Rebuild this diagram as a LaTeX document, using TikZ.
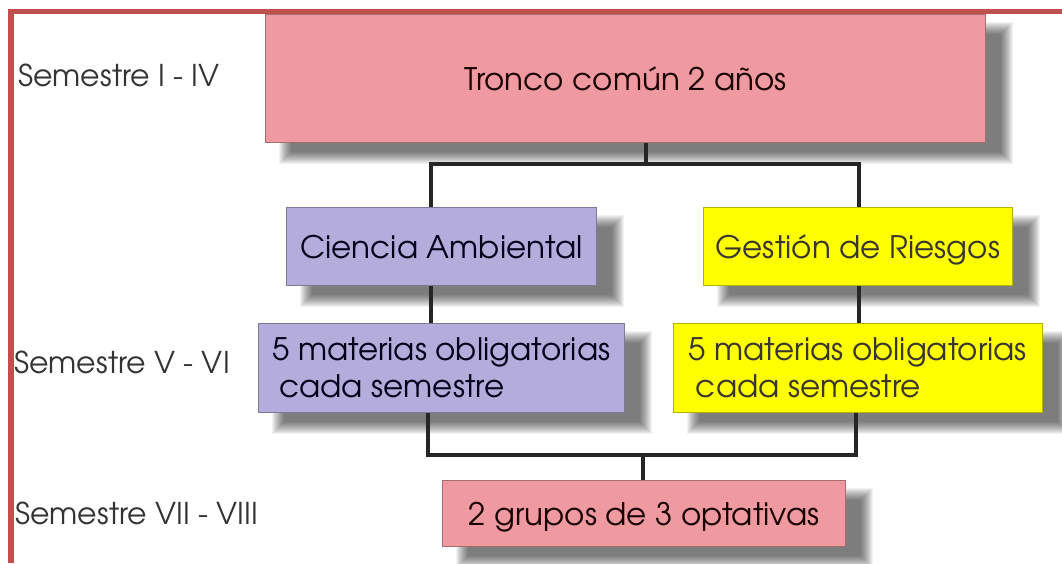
\documentclass[tikz,border=0pt]{standalone}
\usepackage{fontspec}
\setmainfont{TeX Gyre Adventor}
\usetikzlibrary{calc}
\definecolor{pinkbox}{HTML}{EE9AA0}
\definecolor{lavbox}{HTML}{B4ADDB}
\definecolor{yelbox}{HTML}{FFFF00}
\definecolor{redframe}{HTML}{C0504D}
\tikzset{
  x=1pt, y=-1pt,
  box/.style={anchor=north west, inner sep=0pt, font=\fontsize{31}{37}\selectfont},
  pinkb/.style={box, fill=pinkbox, draw=pinkbox!70!black, line width=0.8pt, text=black!90!red},
  lavb/.style={box, fill=lavbox, draw=lavbox!70!black, line width=0.8pt, text=black!90!blue},
  yelb/.style={box, fill=yelbox, draw=yelbox!70!black, line width=0.8pt, text=black!90!yellow},
  conn/.style={draw=black!85, line width=3.2pt},
  semlabel/.style={anchor=west, inner sep=0pt, text=black!80, font=\fontsize{30}{34}\selectfont},
  shadowlayer/.style={fill=black, fill opacity=0.052, draw=none},
}
% soft shadow behind a named node
\newcommand{\softshadow}[1]{%
  \foreach \r in {0,1,...,12}{%
    \fill[shadowlayer] ($(#1.north west)+(21+\r-7,15+\r-7)$) rectangle ($(#1.south east)+(21-\r+7,15-\r+7)$);
  }%
}
\begin{document}
\begin{tikzpicture}
\useasboundingbox (0,0) rectangle (1062,563);
\fill[white] (0,0) rectangle (1062,563);
% red frame
\draw[redframe, line width=5.5pt] (11,563) -- (11,11.5) -- (1062,11.5);

% box geometry (invisible first, to place shadows beneath)
\path node[box, minimum width=720pt, minimum height=128pt] (top0) at (265,14) {}
      node[box, minimum width=310pt, minimum height=78pt] (ca0) at (286,207) {}
      node[box, minimum width=309pt, minimum height=78pt] (gr0) at (703,207) {}
      node[box, minimum width=366pt, minimum height=89pt] (cm0) at (258,323) {}
      node[box, minimum width=369pt, minimum height=89pt] (gm0) at (673,323) {}
      node[box, minimum width=403pt, minimum height=66pt] (opt0) at (442,480) {};
\softshadow{top0}
\softshadow{ca0}
\softshadow{gr0}
\softshadow{cm0}
\softshadow{gm0}
\softshadow{opt0}

% boxes
\node[pinkb, minimum width=720pt, minimum height=128pt, text depth=0pt] (top) at (265,14) {Tronco común 2 años};
\node[lavb, minimum width=310pt, minimum height=78pt, text depth=0pt] (ca) at (286,207) {Ciencia Ambiental};
\node[yelb, minimum width=309pt, minimum height=78pt, text depth=0pt] (gr) at (703,207) {Gestión de Riesgos};
\node[lavb, minimum width=366pt, minimum height=89pt, align=left] (cm) at (258,323) {5 materias obligatorias\\\hspace*{7pt}cada semestre};
\node[yelb, minimum width=369pt, minimum height=89pt, align=left] (gm) at (673,323) {5 materias obligatorias\\\hspace*{7pt}cada semestre};
\node[pinkb, minimum width=403pt, minimum height=66pt, text depth=0pt] (opt) at (442,480) {2 grupos de 3 optativas};

% semester labels
\node[semlabel] (s1) at (18,75) {Semestre I - IV};
\node[semlabel] (s2) at (14,362) {Semestre V - VI};
\node[semlabel] (s3) at (15,513) {Semestre VII - VIII};

% connectors
\coordinate (j1) at (646,164);
\coordinate (hl) at (431,164);
\coordinate (hr) at (859,164);
\coordinate (bl) at (428,455);
\coordinate (br) at (856,455);
\coordinate (j2) at (643,455);
\draw[conn] (top.south -| j1) -- (j1);
\draw[conn] (ca.north -| hl) -- (hl) -- (hr) -- (gr.north -| hr);
\draw[conn] (ca.south -| hl) -- (cm.north -| hl);
\draw[conn] (gr.south -| hr) -- (gm.north -| hr);
\draw[conn] (cm.south -| bl) -- (bl) -- (br) -- (gm.south -| br);
\draw[conn] (j2) -- (opt.north -| j2);
\end{tikzpicture}
\end{document}
